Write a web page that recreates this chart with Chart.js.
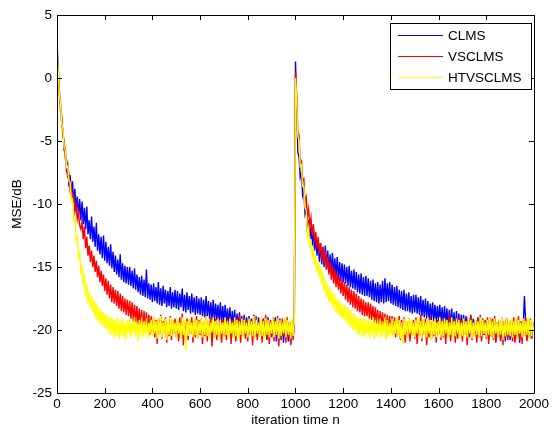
<!DOCTYPE html>
<html>
<head>
<meta charset="utf-8">
<script src="https://cdn.jsdelivr.net/npm/chart.js@4.4.1/dist/chart.umd.min.js"></script>
<style>
html,body{margin:0;padding:0;background:#fff;}
#wrap{width:552px;height:428px;position:relative;}
</style>
</head>
<body>
<div id="wrap"><canvas id="c" width="552" height="428"></canvas></div>
<script>
// sampling grid (every 5 iterations)
const STEP = 5;
const iterations = Array.from({length: 400}, (_, i) => i * STEP);

const seriesNames = ['CLMS', 'VSCLMS', 'HTVSCLMS'];
const seriesColors = ['#0000ff', '#ff0000', '#ffff00'];

const xTicks = [0, 200, 400, 600, 800, 1000, 1200, 1400, 1600, 1800, 2000];
const yTicks = [-25, -20, -15, -10, -5, 0, 5];

const clms = [
2.7, 0.9, -1.4, -2.0, -3.8, -4.0, -5.7, -5.6, -7.3, -6.9, -8.6, -7.7, -9.3, -8.2, -9.9, -8.8, -10.5, -9.4, -11.0, -9.6,
-11.3, -9.8, -11.6, -10.3, -12.0, -10.2, -12.4, -11.3, -12.8, -11.0, -13.0, -11.8, -13.4, -11.5, -13.7, -12.4, -14.0, -12.6, -14.3, -12.5,
-14.5, -13.0, -14.7, -13.4, -14.9, -13.2, -15.1, -13.8, -15.4, -14.1, -15.6, -14.4, -15.8, -14.0, -16.0, -14.7, -16.2, -14.9, -16.3, -15.0,
-16.4, -15.0, -16.5, -15.3, -16.7, -15.1, -16.8, -15.6, -17.0, -15.8, -17.2, -15.7, -17.3, -16.0, -17.4, -15.2, -17.5, -16.3, -17.6, -16.4,
-17.8, -16.3, -17.7, -16.6, -17.9, -16.2, -18.0, -16.7, -18.1, -16.5, -17.9, -16.8, -18.2, -16.9, -18.1, -16.6, -18.3, -17.0, -18.2, -16.8,
-18.3, -16.9, -18.4, -17.1, -18.2, -16.7, -18.5, -17.2, -18.6, -17.0, -18.4, -17.3, -18.7, -17.1, -18.6, -17.4, -18.8, -17.3, -18.7, -17.5,
-18.8, -17.4, -18.9, -17.6, -19.0, -17.3, -18.9, -17.7, -19.1, -17.8, -19.2, -17.6, -19.3, -17.9, -19.2, -18.0, -19.4, -17.8, -19.5, -18.1,
-19.4, -18.0, -19.5, -18.3, -19.6, -18.2, -19.8, -18.5, -19.7, -18.4, -19.9, -18.7, -20.0, -18.6, -20.1, -18.9, -20.2, -18.8, -20.3, -19.0,
-20.2, -18.9, -20.4, -19.1, -20.3, -18.8, -20.5, -19.2, -20.6, -19.0, -20.4, -19.3, -20.7, -19.1, -20.5, -19.2, -20.8, -19.0, -20.6, -19.4,
-20.5, -19.2, -20.7, -19.0, -20.9, -19.3, -20.6, -19.1, -20.8, -19.4, -21.0, -19.2, -20.7, -19.5, -20.9, -19.3, -21.1, -19.4, -20.6, -19.5,
1.3, -2.2, -5.9, -6.3, -7.9, -7.5, -9.3, -8.9, -10.8, -10.4, -12.2, -11.3, -12.8, -11.8, -13.3, -12.1, -13.7, -12.6, -14.1, -12.9,
-14.6, -13.1, -14.8, -13.4, -15.0, -13.3, -15.2, -13.7, -15.4, -14.0, -15.5, -13.9, -15.7, -14.3, -15.8, -14.2, -16.0, -14.6, -16.1, -14.7,
-16.2, -14.8, -16.3, -15.0, -16.5, -14.9, -16.6, -15.3, -16.7, -15.2, -16.8, -15.4, -17.0, -15.6, -17.1, -15.5, -17.2, -15.8, -17.3, -15.7,
-17.3, -15.9, -17.4, -16.1, -17.6, -16.0, -17.7, -16.3, -17.8, -16.2, -17.9, -16.4, -17.8, -16.1, -17.9, -15.9, -17.8, -16.3, -17.7, -16.2,
-17.9, -16.4, -18.0, -16.6, -18.1, -16.5, -18.2, -16.8, -18.3, -16.9, -18.4, -16.8, -18.5, -17.1, -18.5, -17.0, -18.6, -17.3, -18.7, -17.2,
-18.6, -17.2, -18.7, -17.4, -18.8, -17.3, -18.9, -17.6, -19.0, -17.5, -19.1, -17.7, -19.2, -17.9, -19.2, -17.8, -19.3, -18.0, -19.4, -18.1,
-19.3, -18.0, -19.4, -18.2, -19.5, -18.1, -19.6, -18.3, -19.7, -18.4, -19.8, -18.3, -19.9, -18.6, -20.0, -18.5, -20.1, -18.7, -20.2, -18.8,
-20.1, -18.8, -20.3, -18.9, -20.2, -19.0, -20.4, -18.8, -20.5, -19.1, -20.3, -19.2, -20.6, -19.0, -20.5, -19.3, -20.7, -19.1, -20.4, -19.4,
-20.6, -19.2, -20.8, -19.0, -20.5, -19.3, -20.7, -19.1, -20.9, -19.4, -20.6, -19.2, -20.8, -19.5, -20.7, -19.3, -20.9, -19.1, -20.6, -19.4,
-20.8, -19.3, -20.6, -19.5, -20.9, -19.2, -20.7, -19.4, -21.0, -19.3, -20.6, -19.5, -17.3, -19.4, -20.8, -19.2, -20.5, -19.6, -20.7, -19.4
];

const vsclms = [
1.0, 0.0, -1.0, -2.7, -3.0, -4.7, -4.9, -6.4, -6.5, -7.8, -7.6, -8.9, -8.6, -9.8, -9.4, -10.6, -10.1, -11.2, -10.7, -11.7,
-12.0, -11.4, -12.8, -11.8, -13.5, -12.6, -14.1, -13.3, -14.6, -13.7, -15.0, -14.1, -15.4, -14.5, -15.8, -14.9, -16.2, -15.3, -16.5, -15.6,
-16.9, -15.9, -17.2, -16.1, -17.5, -16.4, -17.8, -16.6, -17.9, -16.8, -18.1, -16.9, -18.3, -17.1, -18.5, -17.3, -18.6, -17.5, -18.8, -17.6,
-18.9, -17.7, -19.1, -17.8, -19.3, -18.0, -19.4, -18.1, -19.6, -18.3, -19.7, -18.4, -19.9, -18.5, -20.1, -18.6, -20.2, -18.8, -20.4, -18.9,
-20.3, -19.0, -20.6, -19.2, -21.1, -19.1, -20.4, -18.8, -20.7, -19.3, -20.2, -19.0, -21.0, -19.4, -20.5, -18.9, -20.8, -19.2, -20.3, -19.1,
-20.6, -19.3, -20.9, -19.0, -20.4, -18.7, -21.2, -19.4, -20.5, -19.1, -20.8, -19.2, -20.3, -19.0, -21.0, -19.3, -20.6, -18.9, -20.7, -19.2,
-20.4, -19.1, -21.1, -19.3, -20.5, -18.8, -20.9, -19.2, -20.3, -19.0, -21.3, -19.4, -20.6, -19.1, -20.8, -18.9, -20.4, -19.3, -21.0, -19.2,
-20.5, -19.0, -20.8, -19.3, -20.3, -18.9, -21.1, -19.2, -20.6, -19.4, -20.9, -19.1, -20.4, -18.8, -21.0, -19.3, -20.5, -19.0, -20.7, -19.2,
-20.9, -19.1, -20.4, -19.3, -21.2, -19.0, -20.6, -18.9, -20.8, -19.4, -20.3, -19.2, -21.0, -19.1, -20.5, -18.8, -20.7, -19.3, -21.1, -19.2,
-20.6, -19.0, -20.9, -19.4, -20.4, -18.9, -21.3, -19.2, -20.7, -19.1, -20.5, -19.3, -21.0, -19.0, -20.6, -19.4, -21.2, -19.2, -20.8, -19.5,
0.5, -1.3, -4.2, -4.6, -6.8, -6.6, -8.1, -8.0, -9.9, -9.5, -11.0, -10.4, -11.8, -11.1, -12.5, -11.6, -13.0, -12.2, -13.5, -12.6,
-13.9, -13.1, -14.4, -13.4, -14.7, -13.8, -15.2, -14.2, -15.6, -14.6, -16.0, -14.9, -16.3, -15.2, -16.6, -15.5, -16.8, -15.8, -17.1, -16.0,
-17.3, -16.2, -17.6, -16.4, -17.8, -16.6, -18.0, -16.8, -18.2, -16.9, -18.3, -17.1, -18.5, -17.3, -18.6, -17.5, -18.8, -17.6, -18.9, -17.8,
-18.9, -17.8, -19.1, -17.9, -19.2, -18.1, -19.4, -18.2, -19.5, -18.4, -19.7, -18.5, -19.8, -18.6, -20.0, -18.7, -20.1, -18.8, -20.2, -18.9,
-20.2, -18.9, -20.4, -19.0, -20.6, -19.1, -20.3, -18.9, -20.8, -19.2, -20.5, -19.0, -21.0, -19.3, -20.6, -19.1, -20.9, -19.4, -20.4, -19.2,
-20.7, -19.0, -21.1, -19.3, -20.5, -18.8, -20.9, -19.2, -20.4, -19.1, -21.2, -19.4, -20.6, -18.9, -20.8, -19.3, -20.5, -19.1, -21.0, -19.2,
-20.4, -18.9, -20.8, -19.3, -20.6, -19.0, -21.1, -19.2, -20.5, -18.8, -20.9, -19.4, -20.3, -19.1, -21.0, -19.3, -20.7, -19.0, -20.5, -19.2,
-20.9, -19.1, -20.4, -19.3, -21.2, -19.0, -20.6, -18.9, -20.8, -19.4, -20.5, -19.2, -21.0, -19.1, -20.6, -18.8, -20.9, -19.3, -20.4, -19.2,
-20.7, -19.0, -21.1, -19.3, -20.5, -19.1, -20.8, -18.9, -21.0, -19.4, -20.4, -19.2, -20.9, -19.0, -21.2, -19.3, -20.6, -19.1, -20.8, -19.4,
-20.5, -19.2, -20.9, -19.0, -21.0, -19.3, -20.6, -18.9, -20.8, -19.4, -21.1, -19.2, -20.5, -19.0, -20.9, -19.3, -20.6, -19.1, -20.7, -19.4
];

const htvsclms = [
2.3, 0.6, -1.4, -2.0, -3.7, -4.0, -5.5, -5.7, -7.1, -7.0, -8.2, -8.3, -9.7, -9.6, -11.3, -11.1, -12.9, -12.6, -14.3, -13.9,
-15.6, -14.9, -16.5, -15.6, -17.3, -16.3, -17.9, -16.9, -18.3, -17.3, -18.6, -17.6, -19.0, -17.9, -19.3, -18.2, -19.5, -18.4, -19.7, -18.6,
-19.8, -18.7, -20.0, -18.9, -20.3, -19.0, -20.4, -19.1, -20.6, -19.2, -20.5, -19.0, -20.7, -19.3, -20.4, -19.1, -20.6, -19.4, -20.8, -19.2,
-20.3, -19.1, -20.6, -19.3, -20.2, -19.0, -20.5, -19.4, -20.9, -19.2, -20.4, -19.0, -20.6, -19.3, -20.3, -19.1, -20.7, -19.4, -20.2, -19.2,
-20.5, -19.0, -20.3, -19.3, -20.7, -19.1, -20.4, -18.9, -20.6, -19.4, -20.2, -19.1, -20.8, -19.3, -20.4, -19.0, -20.5, -19.2, -20.3, -19.4,
-20.6, -19.1, -20.3, -19.4, -20.7, -19.0, -20.4, -19.2, -21.6, -19.3, -20.5, -19.1, -20.3, -19.4, -20.6, -19.0, -20.4, -19.2, -20.7, -19.3,
-20.3, -19.1, -20.6, -19.3, -20.4, -18.9, -20.5, -19.2, -20.7, -19.4, -20.2, -19.0, -20.6, -19.3, -20.4, -19.1, -20.8, -19.2, -20.3, -19.4,
-20.5, -19.0, -20.4, -19.3, -20.7, -19.1, -20.3, -19.4, -20.6, -19.0, -20.5, -19.2, -20.8, -19.3, -20.4, -19.1, -20.6, -19.2, -20.3, -19.4,
-20.6, -19.1, -20.4, -19.3, -20.5, -18.9, -20.7, -19.2, -20.3, -19.4, -20.6, -19.0, -20.5, -19.3, -20.8, -19.1, -20.4, -19.2, -20.6, -19.4,
-20.3, -19.0, -20.6, -19.3, -20.4, -19.1, -20.7, -19.2, -20.5, -19.4, -20.3, -19.0, -20.6, -19.2, -20.4, -19.3, -20.7, -19.1, -20.5, -19.3,
0.0, -1.8, -4.6, -5.0, -7.0, -6.9, -8.6, -8.6, -10.3, -10.5, -12.5, -11.9, -13.5, -12.8, -14.3, -13.5, -14.9, -14.1, -15.4, -14.5,
-15.8, -14.9, -16.4, -15.5, -16.9, -16.0, -17.4, -16.4, -17.8, -16.7, -18.0, -17.0, -18.3, -17.2, -18.6, -17.5, -18.8, -17.7, -19.0, -17.9,
-19.1, -18.0, -19.3, -18.2, -19.6, -18.4, -19.8, -18.5, -20.0, -18.7, -20.1, -18.9, -20.3, -19.0, -20.4, -19.1, -20.5, -19.0, -20.6, -19.2,
-20.3, -19.1, -20.6, -19.3, -20.4, -19.0, -20.7, -19.2, -20.5, -19.4, -20.2, -19.1, -20.6, -19.3, -20.4, -19.0, -20.8, -19.2, -20.5, -19.4,
-20.4, -19.1, -20.6, -19.3, -20.3, -19.0, -20.5, -19.2, -20.7, -19.4, -21.1, -19.1, -20.4, -19.3, -20.6, -19.0, -20.3, -19.2, -20.5, -19.4,
-20.6, -19.2, -20.3, -19.0, -20.5, -19.3, -20.7, -19.1, -20.4, -19.4, -20.6, -19.0, -20.3, -19.2, -20.8, -19.3, -20.4, -19.1, -20.6, -19.4,
-20.4, -19.0, -20.6, -19.3, -20.5, -19.1, -20.3, -19.2, -20.7, -19.4, -20.4, -19.0, -20.6, -19.3, -20.5, -19.1, -20.3, -19.2, -20.7, -19.4,
-20.5, -19.1, -20.4, -19.3, -20.6, -19.0, -20.3, -19.2, -20.7, -19.4, -20.5, -19.1, -20.4, -19.3, -20.6, -19.0, -20.5, -19.2, -20.3, -19.4,
-20.6, -19.2, -20.4, -19.0, -20.5, -19.3, -20.7, -19.1, -20.3, -19.4, -20.6, -19.2, -20.4, -19.0, -20.8, -19.3, -20.5, -19.1, -20.4, -19.3,
-20.5, -19.1, -20.6, -19.3, -20.4, -19.0, -20.7, -19.2, -20.3, -19.4, -20.6, -19.1, -20.5, -19.3, -20.4, -19.0, -20.6, -19.2, -20.5, -19.3
];

const FONT = '"Liberation Sans", Arial, sans-serif';
const values = [clms, vsclms, htvsclms];

const datasets = values.map((vals, k) => ({
  label: seriesNames[k],
  data: iterations.map((n, i) => ({x: n, y: vals[i]})),
  borderColor: seriesColors[k],
  backgroundColor: seriesColors[k],
  borderWidth: 1.4,
  pointRadius: 0,
  tension: 0,
  order: 3 - k
}));

const framePlugin = {
  id: 'frame',
  afterDraw(chart) {
    const {ctx, chartArea: a, scales: {x, y}} = chart;
    ctx.save();
    ctx.strokeStyle = '#000';
    ctx.lineWidth = 1;
    ctx.beginPath();
    ctx.rect(Math.round(a.left) + 0.5, Math.round(a.top) + 0.5,
             Math.round(a.right - a.left), Math.round(a.bottom - a.top));
    ctx.stroke();
    const L = 5;
    ctx.beginPath();
    xTicks.forEach(v => {
      const px = Math.round(x.getPixelForValue(v)) + 0.5;
      ctx.moveTo(px, a.bottom); ctx.lineTo(px, a.bottom - L);
      ctx.moveTo(px, a.top); ctx.lineTo(px, a.top + L);
    });
    yTicks.forEach(v => {
      const py = Math.round(y.getPixelForValue(v)) + 0.5;
      ctx.moveTo(a.left, py); ctx.lineTo(a.left + L, py);
      ctx.moveTo(a.right, py); ctx.lineTo(a.right - L, py);
    });
    ctx.stroke();

    // legend box
    const bx = 390.5, by = 23.5, bw = 141, bh = 66;
    ctx.fillStyle = '#fff';
    ctx.fillRect(bx, by, bw, bh);
    ctx.strokeRect(bx, by, bw, bh);
    const rows = [35, 56, 77];
    ctx.font = '13.5px ' + FONT;
    ctx.textBaseline = 'middle';
    ctx.textAlign = 'left';
    seriesNames.forEach((name, k) => {
      ctx.strokeStyle = seriesColors[k];
      ctx.lineWidth = 1.2;
      ctx.beginPath();
      ctx.moveTo(398, rows[k] + 0.5);
      ctx.lineTo(443, rows[k] + 0.5);
      ctx.stroke();
      ctx.fillStyle = '#000';
      ctx.fillText(name, 448, rows[k] + 1);
    });
    ctx.restore();
  }
};

new Chart(document.getElementById('c'), {
  type: 'line',
  data: {datasets},
  options: {
    responsive: false,
    animation: false,
    events: [],
    layout: {padding: {top: 15, right: 14, left: 0, bottom: 0}},
    plugins: {legend: {display: false}, tooltip: {enabled: false}},
    scales: {
      x: {
        type: 'linear', min: 0, max: 2000,
        afterBuildTicks: s => { s.ticks = xTicks.map(v => ({value: v})); },
        afterFit: s => { s.height = 35; },
        grid: {display: false, drawTicks: false},
        border: {display: false},
        ticks: {color: '#000', font: {family: FONT, size: 13.5}, padding: 3, maxRotation: 0, autoSkip: false,
                callback: v => String(v)},
        title: {display: true, text: 'iteration time n', color: '#000', font: {family: FONT, size: 13.5}, padding: {top: 0, bottom: 0}}
      },
      y: {
        type: 'linear', min: -25, max: 5,
        afterBuildTicks: s => { s.ticks = yTicks.map(v => ({value: v})); },
        afterFit: s => { s.width = 57; },
        grid: {display: false, drawTicks: false},
        border: {display: false},
        ticks: {color: '#000', font: {family: FONT, size: 13.5}, padding: 5, autoSkip: false,
                callback: v => String(v)},
        title: {display: true, text: 'MSE/dB', color: '#000', font: {family: FONT, size: 13.5}, padding: {top: 9, bottom: 0}}
      }
    }
  },
  plugins: [framePlugin]
});
</script>
</body>
</html>
